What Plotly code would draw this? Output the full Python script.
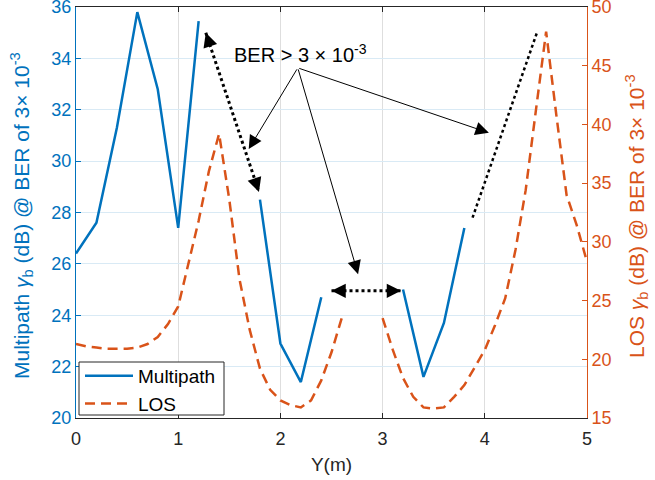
import math
import plotly.graph_objects as go

BLUE = "#0072BD"
ORANGE = "#D95319"
DARK = "#262626"
FONT = "Liberation Sans, Arial, Helvetica, sans-serif"

# Multipath (left axis) - None marks the gaps where BER > threshold
mp_x = [0, 0.2, 0.4, 0.6, 0.8, 1.0, 1.2, 1.5, 1.8, 2.0, 2.2, 2.4, 2.8, 3.2, 3.4, 3.6, 3.8]
mp_y = [26.4, 27.6, 31.3, 35.8, 32.8, 27.4, 35.45, None, 28.5, 22.9, 21.4, 24.7, None, 25.0, 21.6, 23.7, 27.4]

# LOS (right axis)
los_x = [0, 0.1, 0.2, 0.3, 0.4, 0.5, 0.6, 0.7, 0.8, 0.9, 1.0, 1.1, 1.2, 1.3, 1.4, 1.5, 1.6, 1.7,
         1.8, 1.9, 2.0, 2.1, 2.2, 2.3, 2.4, 2.5, 2.6, 2.8, 3.0, 3.1, 3.2, 3.3, 3.4, 3.5, 3.6, 3.7,
         3.8, 3.9, 4.0, 4.1, 4.2, 4.3, 4.4, 4.5, 4.6, 4.7, 4.8, 4.9, 5.0]
los_y = [21.3, 21.1, 21.0, 20.9, 20.9, 20.9, 21.0, 21.3, 21.9, 23.0, 24.5, 28.2, 31.8, 36.0, 39.2,
         33.6, 26.8, 22.5, 19.2, 17.4, 16.5, 16.1, 15.9, 16.5, 18.2, 20.6, 23.5, None, 23.5, 20.8,
         18.4, 16.8, 15.9, 15.8, 15.9, 16.8, 17.8, 19.3, 20.8, 22.9, 25.2, 29.3, 34.4, 41.2, 47.9,
         40.8, 34.0, 31.4, 28.3]

x_ticks = [0, 1, 2, 3, 4, 5]
left_ticks = [20, 22, 24, 26, 28, 30, 32, 34, 36]
right_ticks = [15, 20, 25, 30, 35, 40, 45, 50]

# Annotation geometry (left-axis data units)
label_text = "BER > 3 × 10<sup>-3</sup>"
label_pos = (2.2, 33.62)
arrow_tail = (2.17, 33.63)
arrow_tips = [(1.69, 30.47), (2.76, 25.6), (4.04, 31.1)]
dbl_arrows = [((1.27, 35.0), (1.79, 28.8)), ((2.50, 24.95), (3.18, 24.95))]
dotted_line = ((3.88, 27.8), (4.51, 35.0))

# plot-area geometry
ML, MR, MT, MB = 76, 68, 7, 62
W, H = 655, 480
PW, PH = W - ML - MR, H - MT - MB
SX = PW / 5.0          # px per x unit
SY = PH / 16.0         # px per left-y unit


def px_to_paper(px, py):
    return (px - ML) / PW, (H - MB - py) / PH


fig = go.Figure()
fig.add_trace(go.Scatter(x=mp_x, y=mp_y, mode="lines", name="Multipath",
                         line=dict(color=BLUE, width=2.5), connectgaps=False))
fig.add_trace(go.Scatter(x=los_x, y=los_y, mode="lines", name="LOS", yaxis="y2",
                         line=dict(color=ORANGE, width=2.5, dash="10px,6px"), connectgaps=False))

shapes = []
annotations = []

# legend frame
lx0, ly0 = px_to_paper(79, 415)
lx1, ly1 = px_to_paper(224, 362)
shapes.append(dict(type="rect", xref="paper", yref="paper", x0=lx0, y0=ly0, x1=lx1, y1=ly1,
                   fillcolor="white", line=dict(color=DARK, width=1), layer="above"))


def head(tip, other, size=1.9, width=1.5):
    dx = (other[0] - tip[0]) * SX
    dy = -(other[1] - tip[1]) * SY
    n = math.hypot(dx, dy)
    L = 8.0
    return dict(x=tip[0], y=tip[1], ax=dx / n * L, ay=dy / n * L, xref="x", yref="y",
                text="", showarrow=True, arrowhead=2, arrowsize=size, arrowwidth=width,
                arrowcolor="black", standoff=0, startstandoff=0)


for (p0, p1) in dbl_arrows:
    shapes.append(dict(type="line", xref="x", yref="y", x0=p0[0], y0=p0[1], x1=p1[0], y1=p1[1],
                       line=dict(color="black", width=3, dash="dot")))
    annotations.append(head(p0, p1))
    annotations.append(head(p1, p0))
shapes.append(dict(type="line", xref="x", yref="y", x0=dotted_line[0][0], y0=dotted_line[0][1],
                   x1=dotted_line[1][0], y1=dotted_line[1][1],
                   line=dict(color="black", width=2.5, dash="dot")))

for tip in arrow_tips:
    annotations.append(dict(x=tip[0], y=tip[1], ax=arrow_tail[0], ay=arrow_tail[1], xref="x", yref="y",
                            axref="x", ayref="y", text="", showarrow=True,
                            arrowhead=2, arrowsize=2.7, arrowwidth=1, arrowcolor="black"))
annotations.append(dict(x=label_pos[0], y=label_pos[1], xref="x", yref="y", text=label_text,
                        showarrow=False, font=dict(size=20, color="black", family=FONT),
                        xanchor="center", yanchor="bottom"))

# axis titles as rotated annotations
title_specs = [
    (22, "Multipath <i>γ</i><sub>b</sub> (dB) @ BER of 3× 10<sup>-3</sup>", BLUE),
    (637, "LOS <i>γ</i><sub>b</sub> (dB) @ BER of 3× 10<sup>-3</sup>", ORANGE),
]
for px, txt, col in title_specs:
    tx, ty = px_to_paper(px, 216)
    annotations.append(dict(x=tx, y=ty, xref="paper", yref="paper",
                            text=txt, showarrow=False, textangle=-90,
                            xanchor="center", yanchor="middle",
                            font=dict(size=21, color=col, family=FONT)))

gx, gy = px_to_paper(80, 357)
fig.update_layout(
    width=W, height=H,
    margin=dict(l=ML, r=MR, t=MT, b=MB, autoexpand=False),
    paper_bgcolor="white", plot_bgcolor="white",
    font=dict(family=FONT, size=18, color=DARK),
    showlegend=True,
    legend=dict(x=gx, y=gy, xanchor="left", yanchor="top",
                bgcolor="rgba(0,0,0,0)", borderwidth=0,
                font=dict(size=19, color="black"), itemwidth=48,
                tracegroupgap=0),
    xaxis=dict(range=[0, 5], tickvals=x_ticks, ticks="inside", ticklen=5, tickcolor=DARK,
               showline=True, linecolor=DARK, linewidth=1, mirror="ticks", automargin=False,
               showgrid=True, gridcolor="rgb(222,222,222)", gridwidth=1, zeroline=False,
               tickfont=dict(size=18, color=DARK), ticklabeloverflow="allow",
               ticklabelstandoff=4,
               title=dict(text="Y(m)", font=dict(size=19, color=DARK), standoff=10)),
    yaxis=dict(range=[20, 36], tickvals=left_ticks, ticks="inside", ticklen=5, tickcolor=BLUE,
               showline=True, linecolor=BLUE, linewidth=1, automargin=False,
               showgrid=True, gridcolor="rgb(217,234,245)", gridwidth=1, zeroline=False,
               tickfont=dict(size=18, color=BLUE), ticklabeloverflow="allow"),
    yaxis2=dict(range=[15, 50], tickvals=right_ticks, ticks="inside", ticklen=5, tickcolor=ORANGE,
                overlaying="y", side="right", anchor="x", automargin=False,
                showline=True, linecolor=ORANGE, linewidth=1,
                showgrid=False, zeroline=False,
                tickfont=dict(size=18, color=ORANGE), ticklabeloverflow="allow"),
    shapes=shapes,
    annotations=annotations,
)

fig.write_html("out.html", config={"displayModeBar": False},
               post_script="document.body.style.margin='0px';document.body.style.padding='0px';")
